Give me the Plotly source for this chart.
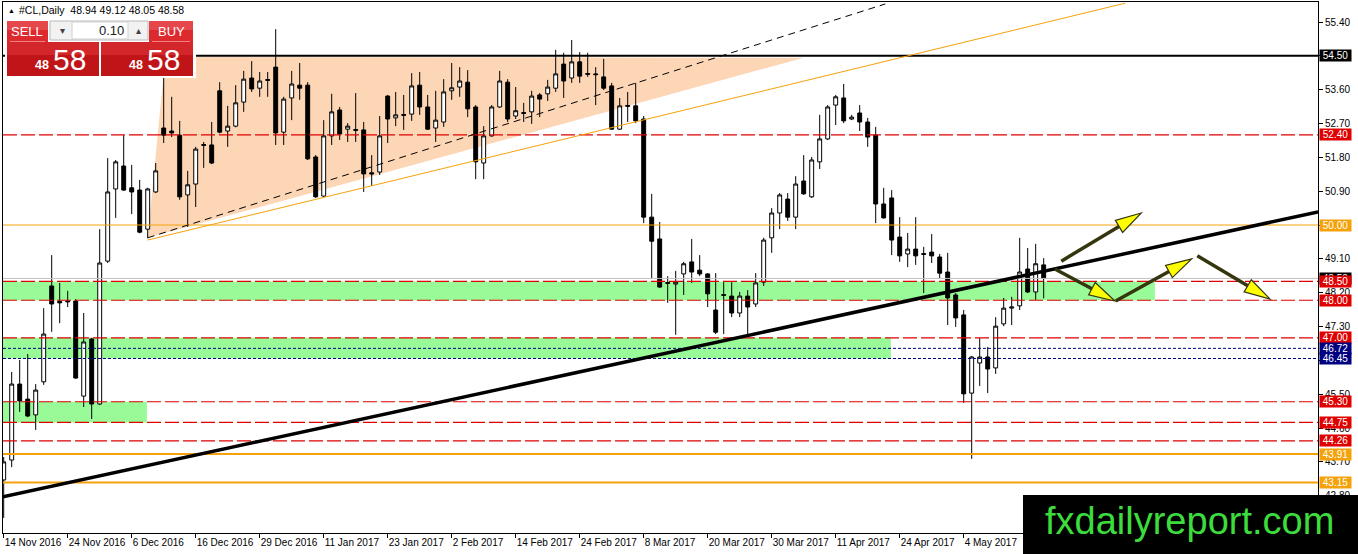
import plotly.graph_objects as go

symbol = "#CL,Daily"
last_ohlc = "48.94 49.12 48.05 48.58"

# daily candles, one per trading day from 14 Nov 2016
opens = [43.22, 43.75, 45.77, 45.37, 44.95, 45.83, 48.38, 47.97, 47.98, 47.98,
         45.45, 46.97, 45.24, 49.04, 50.96, 51.57, 50.99, 50.93, 49.89, 50.88,
         52.58, 52.50, 52.39, 50.80, 51.09, 52.14, 52.13, 53.57, 52.50, 52.63,
         53.27, 53.91, 53.64, 53.87, 54.20, 52.47, 53.38, 53.72, 53.72, 51.81,
         50.77, 52.37, 53.06, 52.55, 52.54, 52.53, 51.39, 51.41, 53.43, 52.85,
         52.94, 52.95, 53.72, 53.14, 52.58, 52.74, 53.57, 53.67, 53.80, 53.14,
         51.65, 52.37, 53.14, 53.80, 52.90, 52.99, 53.01, 53.46, 53.49, 53.64,
         54.28, 53.91, 54.34, 54.03, 54.02, 53.94, 53.70, 52.55, 53.18, 53.17,
         52.82, 50.21, 49.63, 48.47, 48.43, 48.70, 49.02, 48.80, 48.70, 47.74,
         48.15, 48.11, 47.66, 48.11, 47.90, 48.48, 49.66, 50.32, 50.69, 50.21,
         51.17, 50.75, 51.68, 52.29, 53.19, 53.38, 52.82, 52.98, 52.74, 52.39,
         50.56, 50.72, 49.68, 49.23, 49.36, 49.24, 49.28, 49.15, 48.75, 48.14,
         47.61, 45.53, 46.33, 46.49, 46.20, 47.37, 47.79, 47.85, 48.83, 48.22,
         48.94]
highs = [43.83, 46.09, 46.41, 46.57, 45.77, 47.79, 49.20, 48.46, 48.25, 48.03,
         47.66, 47.00, 49.89, 51.78, 51.73, 52.39, 51.60, 51.20, 50.99, 51.65,
         53.91, 53.41, 52.77, 51.44, 52.08, 52.21, 52.74, 53.80, 53.17, 53.72,
         54.10, 54.36, 54.07, 54.07, 55.21, 53.41, 54.10, 54.31, 53.80, 51.86,
         52.79, 53.49, 53.14, 52.71, 53.51, 52.74, 51.86, 52.90, 53.46, 53.54,
         53.46, 54.04, 54.07, 53.46, 53.57, 53.88, 54.31, 54.20, 54.12, 53.19,
         52.63, 53.19, 54.10, 53.88, 53.67, 53.25, 53.57, 53.51, 53.86, 54.66,
         54.58, 54.92, 54.60, 54.58, 54.20, 54.42, 53.78, 53.38, 53.54, 53.78,
         52.90, 50.83, 50.08, 48.64, 48.78, 49.02, 49.63, 49.20, 48.72, 48.72,
         48.48, 48.48, 48.22, 48.27, 48.72, 49.66, 50.45, 50.85, 50.85, 51.30,
         51.86, 51.81, 52.93, 53.19, 53.46, 53.75, 52.93, 53.19, 52.85, 52.61,
         50.99, 50.93, 50.21, 49.79, 50.21, 49.42, 49.76, 49.23, 49.26, 48.19,
         47.74, 46.52, 46.99, 46.76, 47.55, 48.06, 48.09, 49.66, 49.39, 49.50,
         49.12]
lows = [42.21, 43.56, 45.03, 44.89, 44.55, 45.75, 47.16, 47.39, 47.82, 45.91,
        45.16, 44.84, 45.21, 48.99, 50.19, 50.91, 50.29, 49.78, 49.65, 50.85,
        52.18, 52.34, 50.67, 49.95, 50.48, 51.52, 51.62, 52.44, 52.08, 52.60,
        53.01, 53.54, 53.41, 53.41, 52.13, 52.13, 52.79, 53.33, 51.73, 50.72,
        50.75, 52.13, 52.26, 52.21, 52.21, 50.88, 51.04, 51.33, 52.18, 52.63,
        52.53, 52.77, 52.93, 52.53, 52.21, 52.61, 53.33, 53.41, 52.87, 51.22,
        51.22, 52.35, 53.12, 52.74, 52.82, 52.74, 52.69, 52.87, 53.30, 53.54,
        53.38, 53.78, 53.78, 53.94, 53.19, 53.59, 52.53, 52.53, 52.74, 52.71,
        50.05, 48.59, 48.33, 47.93, 47.08, 48.14, 48.46, 48.64, 47.82, 47.10,
        47.10, 47.55, 47.55, 47.05, 47.82, 48.38, 49.26, 49.89, 50.11, 49.89,
        50.80, 50.72, 51.49, 52.26, 52.66, 52.71, 52.79, 52.50, 52.08, 50.05,
        50.17, 49.20, 49.02, 48.88, 48.94, 48.19, 48.99, 48.59, 47.34, 47.29,
        45.27, 43.78, 45.72, 45.53, 46.04, 47.31, 47.34, 47.74, 48.19, 48.01,
        48.05]
closes = [43.70, 45.77, 45.32, 44.92, 45.61, 47.10, 47.90, 47.93, 47.96, 45.93,
          46.89, 45.24, 48.99, 50.88, 51.68, 50.93, 50.88, 49.81, 50.96, 51.44,
          52.39, 52.45, 50.75, 51.07, 52.02, 52.12, 51.65, 52.47, 52.63, 53.25,
          53.88, 53.62, 53.83, 53.85, 52.45, 53.35, 53.75, 53.64, 51.76, 50.75,
          52.37, 53.01, 52.42, 52.63, 52.52, 51.36, 51.36, 52.37, 52.82, 52.93,
          52.92, 53.70, 53.14, 52.55, 52.79, 53.54, 53.65, 53.83, 53.09, 51.68,
          52.37, 53.14, 53.83, 52.82, 53.04, 52.97, 53.43, 53.35, 53.67, 54.02,
          53.83, 54.34, 53.96, 54.01, 54.00, 53.64, 52.55, 53.17, 53.16, 52.77,
          50.21, 49.57, 48.35, 48.45, 48.48, 48.97, 48.75, 48.70, 48.17, 47.15,
          48.13, 47.66, 48.11, 47.82, 48.46, 49.60, 50.32, 50.80, 50.21, 51.09,
          50.83, 51.73, 52.29, 53.14, 53.41, 52.77, 52.87, 52.74, 52.34, 50.56,
          50.19, 49.60, 49.18, 49.36, 49.18, 49.22, 49.18, 48.72, 48.06, 47.53,
          45.51, 46.49, 46.49, 46.17, 47.31, 47.79, 47.82, 48.75, 48.22, 48.97,
          48.58]

date_ticks = [0, 8, 16, 24, 32, 40, 48, 56, 64, 72, 80, 88, 96, 104, 112, 120]
date_labels = ["14 Nov 2016", "24 Nov 2016", "6 Dec 2016", "16 Dec 2016",
               "29 Dec 2016", "11 Jan 2017", "23 Jan 2017", "2 Feb 2017",
               "14 Feb 2017", "24 Feb 2017", "8 Mar 2017", "20 Mar 2017",
               "30 Mar 2017", "11 Apr 2017", "24 Apr 2017", "4 May 2017"]

price_ticks = [42.80, 43.70, 44.60, 45.50, 46.40, 47.30, 48.20, 49.10,
               50.00, 50.90, 51.80, 52.70, 53.60, 54.50, 55.40]

# horizontal levels
black_levels = [54.50]
red_levels = [52.40, 48.50, 48.00, 47.00, 45.30, 44.75, 44.26]
navy_levels = [46.72, 46.45]
orange_thin_levels = [50.00]
orange_thick_levels = [43.91, 43.15]
bid_price = 48.58

# drawings (bar index, price)
zones = [(48.50, 48.00, 143.9), (47.00, 46.45, 110.9), (45.30, 44.75, 17.9)]
triangle = [(18, 49.66), (20.2, 54.47), (100, 54.45)]
main_trend = [(-0.1, 42.77), (164.3, 50.35)]
dash_trend = [(18, 49.66), (110.2, 55.88)]
orange_trend = [(18, 49.60), (140.2, 55.90)]
arrows = [((132.2, 49.04), (142.2, 50.32)),
          ((131.4, 48.83), (138.9, 47.98)),
          ((139.0, 47.98), (148.5, 49.10)),
          ((149.2, 49.18), (158.3, 48.03))]

W, H = 1358, 554
ML, MR, MT, MB = 3, 40, 2, 21
x_range = [-0.0875, 164.29]
y_range = [41.809, 55.932]
sx = (W - ML - MR) / (x_range[1] - x_range[0])
sy = (H - MT - MB) / (y_range[1] - y_range[0])


def px(x):
    return (x - ML) / (W - ML - MR)


def py(y):
    return (H - MB - y) / (H - MT - MB)


FONT = "Liberation Sans"
RED = "#e00000"
ORANGE = "#f5a20a"
NAVY = "#000080"

fig = go.Figure()
fig.add_trace(go.Candlestick(
    x=list(range(len(opens))), open=opens, high=highs, low=lows, close=closes,
    increasing=dict(line=dict(color="black", width=1), fillcolor="white"),
    decreasing=dict(line=dict(color="black", width=1), fillcolor="black"),
    whiskerwidth=0, hoverinfo="skip"))

shapes = []
for top, bot, end in zones:
    shapes.append(dict(type="rect", xref="x", yref="y", x0=-1, x1=end, y0=bot, y1=top,
                       fillcolor="#98fb98", line=dict(width=0), layer="below"))
tri = "M " + " L ".join(f"{b},{p}" for b, p in triangle) + " Z"
shapes.append(dict(type="path", xref="x", yref="y", path=tri, fillcolor="#fdd6b6",
                   line=dict(width=0), layer="below"))


def hline(p, color, width, dash="solid"):
    shapes.append(dict(type="line", xref="paper", yref="y", x0=0, x1=1, y0=p, y1=p,
                       line=dict(color=color, width=width, dash=dash)))


hline(bid_price, "#c0c0c0", 1)
for p in red_levels:
    hline(p, RED, 1.2, "14px,4px")
for p in navy_levels:
    hline(p, NAVY, 1, "3px,2px")
for p in orange_thin_levels:
    hline(p, ORANGE, 1)
for p in orange_thick_levels:
    hline(p, ORANGE, 2)
for p in black_levels:
    hline(p, "black", 2)


def seg(pts, color, width, dash="solid"):
    (x0, y0), (x1, y1) = pts
    shapes.append(dict(type="line", xref="x", yref="y", x0=x0, y0=y0, x1=x1, y1=y1,
                       line=dict(color=color, width=width, dash=dash)))


seg(orange_trend, ORANGE, 1)
seg(dash_trend, "black", 1, "7px,5px")
seg(main_trend, "black", 3.5)

# arrows: shaft plus yellow head
for (b0, p0), (b1, p1) in arrows:
    dx, dy = (b1 - b0) * sx, (p1 - p0) * sy
    ln = (dx * dx + dy * dy) ** 0.5
    ux, uy = dx / ln, dy / ln
    head, half = 26, 7
    bb, bp = b1 - head * ux / sx, p1 - head * uy / sy
    shapes.append(dict(type="line", xref="x", yref="y", x0=b0, y0=p0, x1=bb, y1=bp,
                       line=dict(color="#35350f", width=3.5)))
    lb, lp = bb - half * uy / sx, bp + half * ux / sy
    rb, rp = bb + half * uy / sx, bp - half * ux / sy
    shapes.append(dict(type="path", xref="x", yref="y",
                       path=f"M {b1},{p1} L {lb},{lp} L {rb},{rp} Z",
                       fillcolor="#ffff00", line=dict(color="#35350f", width=1.2)))


def box(x0, y0, x1, y1, fill, line=None, lw=0):
    shapes.append(dict(type="rect", xref="paper", yref="paper", x0=px(x0), x1=px(x1),
                       y0=py(y1), y1=py(y0), fillcolor=fill,
                       line=dict(color=line or fill, width=lw)))


# one click trading panel
box(5, 18, 196, 78, "white")
box(7, 21, 48, 42, "#dc2a2e")
box(7, 21, 48, 30, "#e6474a")
box(149, 21, 193, 42, "#dc2a2e")
box(149, 21, 193, 30, "#e6474a")
box(50, 21, 148, 40, "#f2f2f2", "#b8b8b8", 1)
box(72, 22, 128, 39, "white", "#d0d0d0", 1)
box(7, 42, 99, 76, "#c01518")
box(7, 42, 99, 55, "#d2262a")
box(101, 42, 193, 76, "#c01518")
box(101, 42, 193, 55, "#d2262a")
shapes.append(dict(type="line", xref="paper", yref="paper", x0=px(10), x1=px(45),
                   y0=py(41.5), y1=py(41.5), line=dict(color="#f08080", width=1)))
shapes.append(dict(type="line", xref="paper", yref="paper", x0=px(152), x1=px(190),
                   y0=py(41.5), y1=py(41.5), line=dict(color="#f08080", width=1)))

# watermark
box(1023, 495, 1360, 556, "black")

ann = []


def text(x, y, s, size, color="black", xanchor="left", bold=False, family=FONT):
    ann.append(dict(x=px(x), y=py(y), xref="paper", yref="paper", text=f"<b>{s}</b>" if bold else s,
                    showarrow=False, xanchor=xanchor, yanchor="middle",
                    font=dict(family=family, size=size, color=color)))


text(6, 10, "▲", 7)
text(17, 10, f"{symbol}  {last_ohlc}", 10.5)
text(27.5, 31, "SELL", 13, "white", "center")
text(171, 31, "BUY", 13, "white", "center")
text(126, 30.5, "0.10", 13, "#202020", "right")
text(62, 30.5, "▾", 10, "#404040", "center")
text(138, 30.5, "▴", 10, "#404040", "center")
text(42, 65, "48", 12.5, "white", "center", bold=True)
text(69, 59, "58", 30, "white", "center")
text(136, 65, "48", 12.5, "white", "center", bold=True)
text(163, 59, "58", 30, "white", "center")
text(1189, 521, "fxdailyreport.com", 38, "#3ddc3d", "center")

# price labels on the right scale
price_labels = [(bid_price, "black")] + [(p, "black") for p in black_levels] + \
    [(p, RED) for p in red_levels] + [(p, NAVY) for p in navy_levels] + \
    [(p, ORANGE) for p in orange_thin_levels + orange_thick_levels]
covered = {54.50, 50.00, 46.40}
for p, c in price_labels:
    ann.append(dict(x=1, y=p, xref="paper", yref="y", xanchor="left", yanchor="middle",
                    xshift=1, text=f" {p:.2f} ", showarrow=False, bgcolor=c, borderpad=0,
                    font=dict(family=FONT, size=10, color="white")))

fig.update_layout(
    width=W, height=H, margin=dict(l=ML, r=MR, t=MT, b=MB),
    paper_bgcolor="white", plot_bgcolor="white", showlegend=False,
    shapes=shapes, annotations=ann,
    font=dict(family=FONT, size=10, color="black"),
    xaxis=dict(range=x_range, tickvals=date_ticks, ticktext=date_labels,
               ticks="outside", ticklen=4, tickcolor="black", showgrid=False,
               zeroline=False, showline=True, mirror=True, linecolor="black",
               linewidth=1, ticklabelposition="outside right", tickangle=0,
               rangeslider=dict(visible=False), fixedrange=True),
    yaxis=dict(range=y_range, side="right", tickvals=price_ticks,
               ticktext=["" if p in covered else f"{p:.2f}" for p in price_ticks],
               ticks="outside", ticklen=4, tickcolor="black", showgrid=False,
               zeroline=False, showline=True, mirror=True, linecolor="black",
               linewidth=1, fixedrange=True),
)

fig.write_html("out.html", config={"displayModeBar": False},
               post_script="document.body.style.margin = '0';")
